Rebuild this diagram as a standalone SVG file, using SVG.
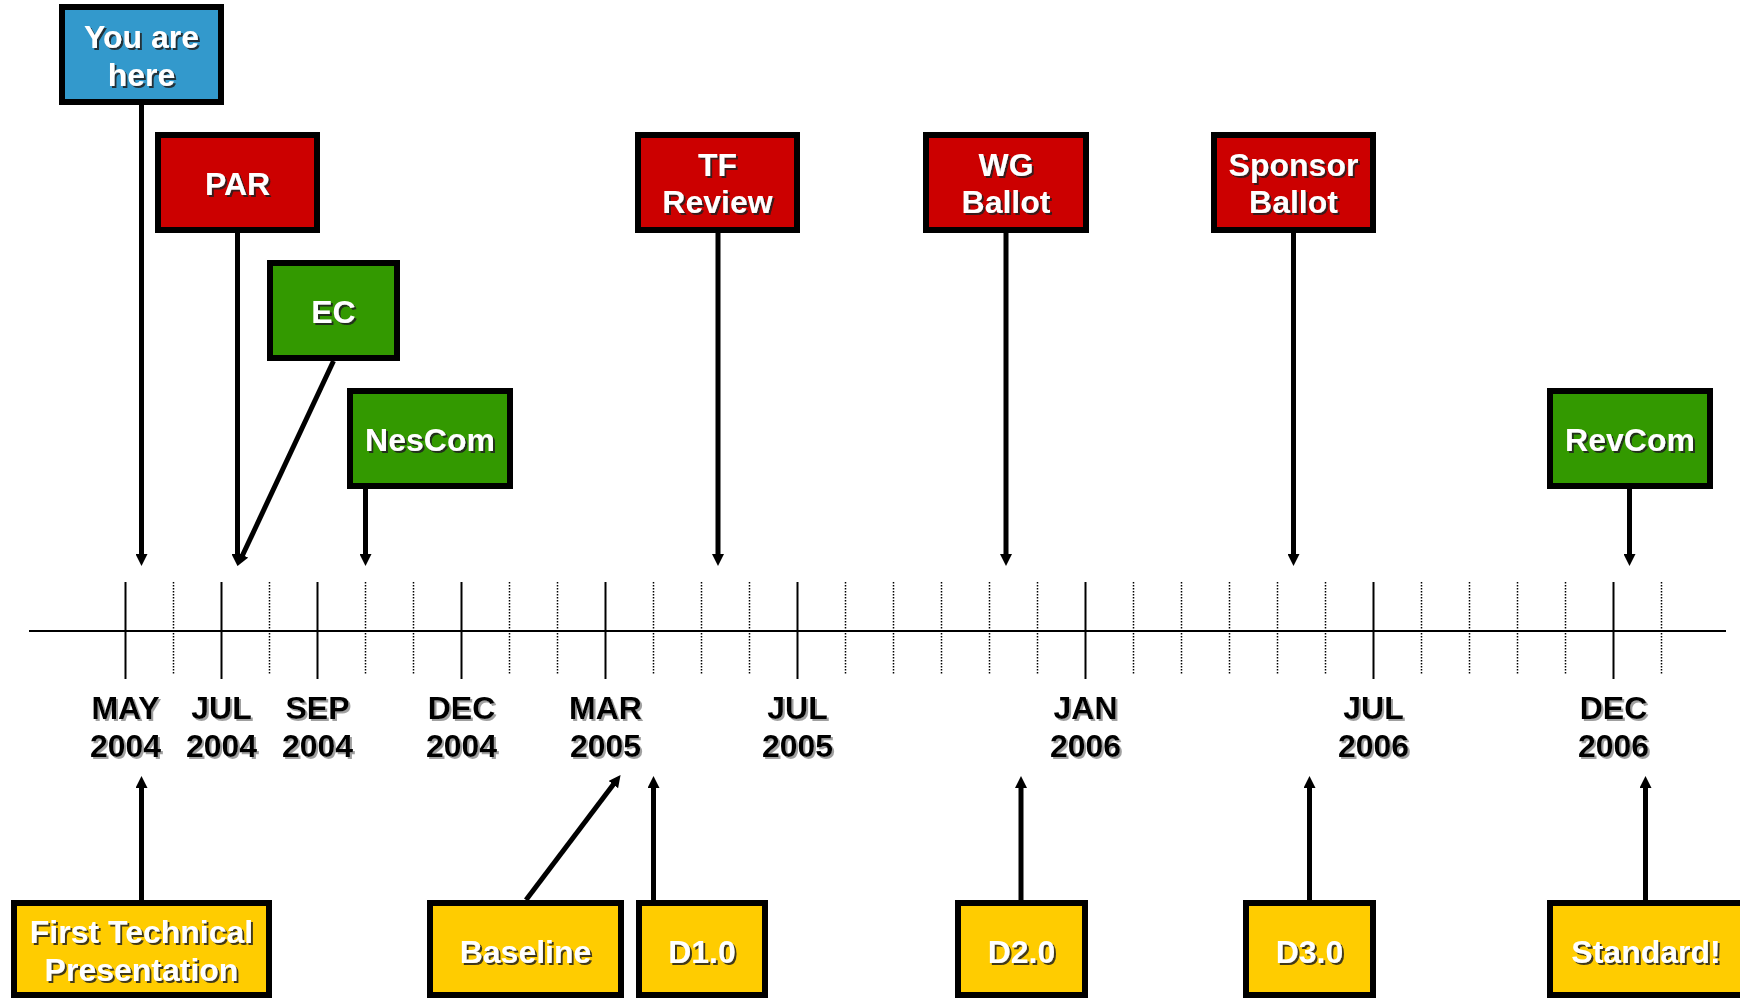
<svg xmlns="http://www.w3.org/2000/svg" width="1740" height="998" viewBox="0 0 1740 998">
<defs>
<style>
.box{stroke:#000;stroke-width:6}
.blue{fill:#3399CC}.red{fill:#CC0000}.green{fill:#339900}.yellow{fill:#FFCC00}
.bt{font-family:"Liberation Sans",Arial,sans-serif;font-weight:bold;font-size:32px;fill:#fff;text-anchor:middle;filter:url(#sw)}
.tl{font-family:"Liberation Sans",Arial,sans-serif;font-weight:bold;font-size:32px;fill:#000;text-anchor:middle;filter:url(#sg)}
.con{stroke:#000;stroke-width:5;fill:none;marker-end:url(#ah)}
.axis{stroke:#000;stroke-width:2}
.tick{stroke:#000;stroke-width:2}
.dot{stroke:#000;stroke-width:1.5;stroke-dasharray:1.5 1.5}
</style>
<filter id="sw" x="-10%" y="-20%" width="130%" height="150%">
<feDropShadow dx="2" dy="2" stdDeviation="0.3" flood-color="#222" flood-opacity="0.85"/>
</filter>
<filter id="sg" x="-10%" y="-20%" width="130%" height="150%">
<feDropShadow dx="2" dy="2" stdDeviation="0.4" flood-color="#888" flood-opacity="0.8"/>
</filter>
<marker id="ah" viewBox="0 -6 12 12" refX="1" refY="0" markerWidth="12" markerHeight="12" markerUnits="userSpaceOnUse" orient="auto">
<path d="M0,-6 L12,0 L0,6 z" fill="#000"/>
</marker>
</defs>
<rect width="1740" height="998" fill="#fff"/>

<g id="timeline">
<line class="axis" x1="29" y1="631" x2="1726" y2="631"/>
<g class="tick">
<line x1="125.5" y1="582" x2="125.5" y2="679"/>
<line x1="221.5" y1="582" x2="221.5" y2="679"/>
<line x1="317.5" y1="582" x2="317.5" y2="679"/>
<line x1="461.5" y1="582" x2="461.5" y2="679"/>
<line x1="605.5" y1="582" x2="605.5" y2="679"/>
<line x1="797.5" y1="582" x2="797.5" y2="679"/>
<line x1="1085.5" y1="582" x2="1085.5" y2="679"/>
<line x1="1373.5" y1="582" x2="1373.5" y2="679"/>
<line x1="1613.5" y1="582" x2="1613.5" y2="679"/>
</g>
<g class="dot">
<line x1="173.5" y1="582" x2="173.5" y2="675"/>
<line x1="269.5" y1="582" x2="269.5" y2="675"/>
<line x1="365.5" y1="582" x2="365.5" y2="675"/>
<line x1="413.5" y1="582" x2="413.5" y2="675"/>
<line x1="509.5" y1="582" x2="509.5" y2="675"/>
<line x1="557.5" y1="582" x2="557.5" y2="675"/>
<line x1="653.5" y1="582" x2="653.5" y2="675"/>
<line x1="701.5" y1="582" x2="701.5" y2="675"/>
<line x1="749.5" y1="582" x2="749.5" y2="675"/>
<line x1="845.5" y1="582" x2="845.5" y2="675"/>
<line x1="893.5" y1="582" x2="893.5" y2="675"/>
<line x1="941.5" y1="582" x2="941.5" y2="675"/>
<line x1="989.5" y1="582" x2="989.5" y2="675"/>
<line x1="1037.5" y1="582" x2="1037.5" y2="675"/>
<line x1="1133.5" y1="582" x2="1133.5" y2="675"/>
<line x1="1181.5" y1="582" x2="1181.5" y2="675"/>
<line x1="1229.5" y1="582" x2="1229.5" y2="675"/>
<line x1="1277.5" y1="582" x2="1277.5" y2="675"/>
<line x1="1325.5" y1="582" x2="1325.5" y2="675"/>
<line x1="1421.5" y1="582" x2="1421.5" y2="675"/>
<line x1="1469.5" y1="582" x2="1469.5" y2="675"/>
<line x1="1517.5" y1="582" x2="1517.5" y2="675"/>
<line x1="1565.5" y1="582" x2="1565.5" y2="675"/>
<line x1="1661.5" y1="582" x2="1661.5" y2="675"/>
</g>
<g class="tl">
<text x="125.5" y="719">MAY</text><text x="125.5" y="757">2004</text>
<text x="221.5" y="719">JUL</text><text x="221.5" y="757">2004</text>
<text x="317.5" y="719">SEP</text><text x="317.5" y="757">2004</text>
<text x="461.5" y="719">DEC</text><text x="461.5" y="757">2004</text>
<text x="605.5" y="719">MAR</text><text x="605.5" y="757">2005</text>
<text x="797.5" y="719">JUL</text><text x="797.5" y="757">2005</text>
<text x="1085.5" y="719">JAN</text><text x="1085.5" y="757">2006</text>
<text x="1373.5" y="719">JUL</text><text x="1373.5" y="757">2006</text>
<text x="1613.5" y="719">DEC</text><text x="1613.5" y="757">2006</text>
</g>
</g>

<g id="connectors">
<line class="con" x1="141.5" y1="105" x2="141.5" y2="555"/>
<line class="con" x1="237.5" y1="233" x2="237.5" y2="555"/>
<line class="con" x1="333.5" y1="361" x2="242.2" y2="556"/>
<line class="con" x1="365.5" y1="489" x2="365.5" y2="555"/>
<line class="con" x1="718" y1="233" x2="718" y2="555"/>
<line class="con" x1="1006" y1="233" x2="1006" y2="555"/>
<line class="con" x1="1293.5" y1="233" x2="1293.5" y2="555"/>
<line class="con" x1="1629.5" y1="489" x2="1629.5" y2="555"/>
<line class="con" x1="141.5" y1="900" x2="141.5" y2="787"/>
<line class="con" x1="526" y1="900" x2="613.9" y2="783.8"/>
<line class="con" x1="653.5" y1="900" x2="653.5" y2="787"/>
<line class="con" x1="1021" y1="900" x2="1021" y2="787"/>
<line class="con" x1="1309.5" y1="900" x2="1309.5" y2="787"/>
<line class="con" x1="1645.5" y1="900" x2="1645.5" y2="787"/>
</g>

<g id="you-are-here">
<rect class="box blue" x="62" y="7" width="159" height="95"/>
<text class="bt" x="141.5" y="48">You are</text>
<text class="bt" x="141.5" y="86">here</text>
</g>
<g id="par">
<rect class="box red" x="158" y="135" width="159" height="95"/>
<text class="bt" x="237.5" y="195">PAR</text>
</g>
<g id="ec">
<rect class="box green" x="270" y="263" width="127" height="95"/>
<text class="bt" x="333.5" y="323">EC</text>
</g>
<g id="nescom">
<rect class="box green" x="350" y="391" width="160" height="95"/>
<text class="bt" x="430" y="451">NesCom</text>
</g>
<g id="tf-review">
<rect class="box red" x="638" y="135" width="159" height="95"/>
<text class="bt" x="717.5" y="176">TF</text>
<text class="bt" x="717.5" y="213">Review</text>
</g>
<g id="wg-ballot">
<rect class="box red" x="926" y="135" width="160" height="95"/>
<text class="bt" x="1006" y="176">WG</text>
<text class="bt" x="1006" y="213">Ballot</text>
</g>
<g id="sponsor-ballot">
<rect class="box red" x="1214" y="135" width="159" height="95"/>
<text class="bt" x="1293.5" y="176">Sponsor</text>
<text class="bt" x="1293.5" y="213">Ballot</text>
</g>
<g id="revcom">
<rect class="box green" x="1550" y="391" width="160" height="95"/>
<text class="bt" x="1630" y="451">RevCom</text>
</g>

<g id="first-technical">
<rect class="box yellow" x="14" y="903" width="255" height="92"/>
<text class="bt" x="141.5" y="943">First Technical</text>
<text class="bt" x="141.5" y="981">Presentation</text>
</g>
<g id="baseline">
<rect class="box yellow" x="430" y="903" width="191" height="92"/>
<text class="bt" x="525.5" y="963">Baseline</text>
</g>
<g id="d1">
<rect class="box yellow" x="639" y="903" width="126" height="92"/>
<text class="bt" x="702" y="963">D1.0</text>
</g>
<g id="d2">
<rect class="box yellow" x="958" y="903" width="127" height="92"/>
<text class="bt" x="1021.5" y="963">D2.0</text>
</g>
<g id="d3">
<rect class="box yellow" x="1246" y="903" width="127" height="92"/>
<text class="bt" x="1309.5" y="963">D3.0</text>
</g>
<g id="standard">
<rect class="box yellow" x="1550" y="903" width="200" height="92"/>
<text class="bt" x="1646" y="963">Standard!</text>
</g>
</svg>
